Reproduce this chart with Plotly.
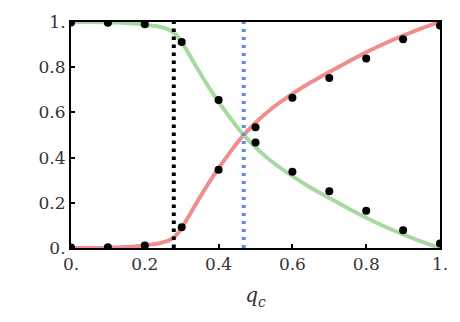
import plotly.graph_objects as go

# smooth curves
curve_q = [0.00, 0.05, 0.10, 0.15, 0.18, 0.20, 0.22, 0.24, 0.26, 0.27, 0.28, 0.29,
           0.30, 0.31, 0.32, 0.33, 0.34, 0.36, 0.38, 0.40, 0.42, 0.44, 0.46, 0.48,
           0.50, 0.52, 0.55, 0.60, 0.65, 0.70, 0.75, 0.80, 0.85, 0.90, 0.95, 1.00]
red_curve = [0.000, 0.000, 0.001, 0.004, 0.008, 0.012, 0.016, 0.021, 0.030, 0.038, 0.048, 0.066,
             0.089, 0.115, 0.143, 0.171, 0.199, 0.253, 0.305, 0.354, 0.399, 0.443, 0.485, 0.521,
             0.554, 0.584, 0.625, 0.682, 0.733, 0.779, 0.823, 0.866, 0.905, 0.940, 0.972, 1.000]
green_curve = [1.000, 1.000, 0.999, 0.996, 0.992, 0.988, 0.984, 0.979, 0.970, 0.962, 0.952, 0.934,
               0.911, 0.885, 0.857, 0.829, 0.801, 0.747, 0.695, 0.646, 0.601, 0.557, 0.515, 0.479,
               0.446, 0.416, 0.375, 0.318, 0.267, 0.221, 0.177, 0.134, 0.095, 0.060, 0.028, 0.000]

# sample points
dot_q = [0.0, 0.1, 0.2, 0.3, 0.4, 0.5, 0.6, 0.7, 0.8, 0.9, 1.0]
red_dots = [0.002, 0.003, 0.011, 0.092, 0.346, 0.534, 0.665, 0.752, 0.838, 0.924, 0.984]
green_dots = [0.998, 0.997, 0.990, 0.911, 0.655, 0.467, 0.3375, 0.251, 0.165, 0.079, 0.020]

# vertical markers
black_line_q = 0.2785
blue_line_q = 0.468

tick_vals = [0, 0.2, 0.4, 0.6, 0.8, 1.0]
tick_text = ["0.", "0.2", "0.4", "0.6", "0.8", "1."]

RED = "#f08e8e"
GREEN = "#a8d9a2"
BLUE = "#5b8fd8"
SERIF = "DejaVu Serif"

fig = go.Figure()
fig.add_trace(go.Scatter(x=curve_q, y=red_curve, mode="lines",
                         line=dict(color=RED, width=4, shape="spline", smoothing=0.8)))
fig.add_trace(go.Scatter(x=curve_q, y=green_curve, mode="lines",
                         line=dict(color=GREEN, width=4, shape="spline", smoothing=0.8)))
fig.add_trace(go.Scatter(x=[black_line_q, black_line_q], y=[0, 1], mode="lines",
                         line=dict(color="black", width=4, dash="3.5px,4.5px")))
fig.add_trace(go.Scatter(x=[blue_line_q, blue_line_q], y=[0, 1], mode="lines",
                         line=dict(color=BLUE, width=4, dash="3px,5px")))
fig.add_trace(go.Scatter(x=dot_q, y=red_dots, mode="markers",
                         marker=dict(color="black", size=8)))
fig.add_trace(go.Scatter(x=dot_q, y=green_dots, mode="markers",
                         marker=dict(color="black", size=8)))

axis_common = dict(range=[0, 1], showgrid=False, zeroline=False,
                   showline=True, linecolor="black", linewidth=2, mirror=True,
                   ticks="inside", ticklen=4, tickwidth=1.5, tickcolor="black",
                   tickvals=tick_vals, ticktext=tick_text,
                   tickfont=dict(family=SERIF, size=17, color="#333333"))

fig.update_layout(
    width=460, height=322,
    margin=dict(l=71, r=12, t=16, b=74),
    paper_bgcolor="white", plot_bgcolor="white",
    showlegend=False,
    xaxis=dict(**axis_common,
               title=dict(text="<i>q</i><sub><i>c</i></sub>",
                          font=dict(family=SERIF, size=20, color="#333333"),
                          standoff=15)),
    yaxis=dict(**axis_common),
)

fig.write_html("out.html")
